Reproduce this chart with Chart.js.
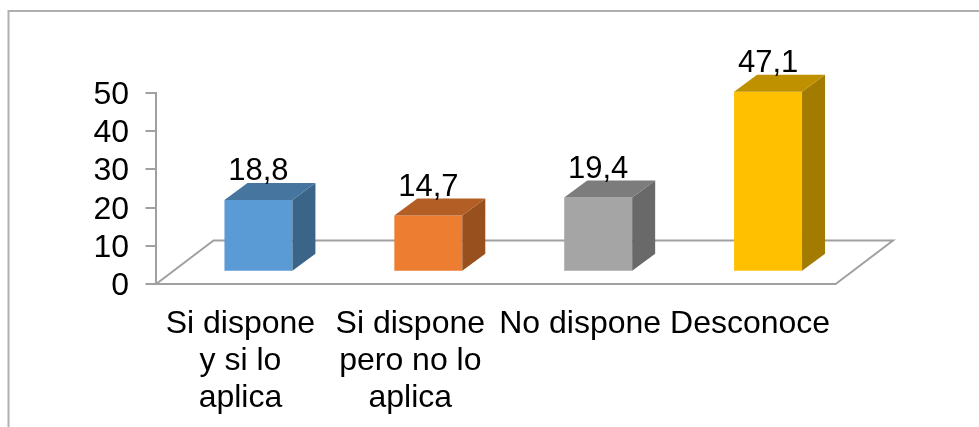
<!DOCTYPE html>
<html>
<head>
<meta charset="utf-8">
<title>Dispone</title>
<script src="https://cdn.jsdelivr.net/npm/chart.js@4/dist/chart.umd.min.js"></script>
<style>
    html, body { margin: 0; padding: 0; background: #fff; }
    canvas { display: block; }
</style>
</head>
<body>
<canvas id="chart" width="979" height="427"></canvas>
<script>
const categories = [['Si dispone', 'y si lo', 'aplica'], ['Si dispone', 'pero no lo', 'aplica'], 'No dispone', 'Desconoce'];
const seriesValues = [18.8, 14.7, 19.4, 47.1];
const valueLabels = ['18,8', '14,7', '19,4', '47,1'];
const frontColors = ['#5b9bd5', '#ed7d31', '#a5a5a5', '#ffc000'];
const topColors = ['#4675a0', '#b35e25', '#7c7c7c', '#bf9000'];
const sideColors = ['#3a6488', '#98501e', '#696969', '#a37b00'];

const GREY = '#a0a0a0';
const FONT = 'Liberation Sans';
// floor depth of the 3D box, and how far bars sit in from the front edge
const DEPTH_X = 58, DEPTH_Y = 44;
const BAR_DX = 18, BAR_DY = -12.3, SIDE_X = 23, SIDE_Y = 17;

const outerFrame = {
    id: 'outerFrame',
    beforeDraw(chart) {
        const ctx = chart.ctx;
        ctx.save();
        ctx.strokeStyle = '#b0b0b0';
        ctx.lineWidth = 2;
        ctx.beginPath();
        ctx.moveTo(8.5, 427);
        ctx.lineTo(8.5, 11);
        ctx.lineTo(979, 11);
        ctx.stroke();
        ctx.restore();
    }
};

const floor3d = {
    id: 'floor3d',
    beforeDatasetsDraw(chart) {
        const { ctx, chartArea } = chart;
        const { left, right, bottom } = chartArea;
        ctx.save();
        ctx.strokeStyle = GREY;
        ctx.lineWidth = 2;
        ctx.beginPath();
        ctx.moveTo(left, bottom + 0.5);
        ctx.lineTo(left + DEPTH_X, bottom - DEPTH_Y + 0.5);
        ctx.lineTo(right + DEPTH_X, bottom - DEPTH_Y + 0.5);
        ctx.lineTo(right, bottom + 0.5);
        ctx.stroke();
        ctx.restore();
    }
};

// value axis labels sit a little below the tick marks, so they are placed by baseline
const yLabels = {
    id: 'yLabels',
    afterDraw(chart) {
        const ctx = chart.ctx;
        const scale = chart.scales.y;
        ctx.save();
        ctx.fillStyle = '#000';
        ctx.font = '32px "' + FONT + '"';
        ctx.textAlign = 'right';
        ctx.textBaseline = 'alphabetic';
        scale.ticks.forEach(function (tick) {
            ctx.fillText(String(tick.value), 129, scale.getPixelForValue(tick.value) + 11);
        });
        ctx.restore();
    }
};

// bars are shifted back onto the floor, side and top faces come from the bar elements
const bars3d = {
    id: 'bars3d',
    beforeDatasetDraw(chart) {
        chart.ctx.save();
        chart.ctx.translate(BAR_DX, BAR_DY);
    },
    afterDatasetDraw(chart) {
        const ctx = chart.ctx;
        chart.getDatasetMeta(0).data.forEach(function (bar, i) {
            const right = bar.x + bar.width / 2;
            const left = bar.x - bar.width / 2;
            ctx.fillStyle = sideColors[i];
            ctx.beginPath();
            ctx.moveTo(right, bar.y);
            ctx.lineTo(right + SIDE_X, bar.y - SIDE_Y);
            ctx.lineTo(right + SIDE_X, bar.base - SIDE_Y);
            ctx.lineTo(right, bar.base);
            ctx.closePath();
            ctx.fill();
            ctx.fillStyle = topColors[i];
            ctx.beginPath();
            ctx.moveTo(left, bar.y);
            ctx.lineTo(left + SIDE_X, bar.y - SIDE_Y);
            ctx.lineTo(right + SIDE_X, bar.y - SIDE_Y);
            ctx.lineTo(right, bar.y);
            ctx.closePath();
            ctx.fill();
        });
        ctx.restore();
        ctx.save();
        ctx.fillStyle = '#000';
        ctx.font = '31px "' + FONT + '"';
        ctx.textAlign = 'center';
        ctx.textBaseline = 'alphabetic';
        chart.getDatasetMeta(0).data.forEach(function (bar, i) {
            ctx.fillText(valueLabels[i], bar.x + BAR_DX, bar.y + BAR_DY - 20);
        });
        ctx.restore();
    }
};

new Chart(document.getElementById('chart').getContext('2d'), {
    type: 'bar',
    data: {
        labels: categories,
        datasets: [{
            data: seriesValues,
            backgroundColor: frontColors,
            borderWidth: 0,
            clip: false,
            categoryPercentage: 0.4,
            barPercentage: 1
        }]
    },
    options: {
        responsive: false,
        animation: false,
        layout: { padding: { left: 0, right: 144, top: 93, bottom: 0 } },
        plugins: {
            legend: { display: false },
            title: { display: false },
            tooltip: { enabled: false }
        },
        scales: {
            x: {
                afterFit(scale) { scale.height = 143; },
                grid: { display: false, drawTicks: false },
                border: { display: true, color: GREY, width: 2 },
                ticks: {
                    color: '#000',
                    font: { family: FONT, size: 32, lineHeight: 1.15 },
                    padding: 22,
                    maxRotation: 0,
                    autoSkip: false
                }
            },
            y: {
                min: 0,
                max: 50,
                afterFit(scale) { scale.width = 155.5; },
                grid: { drawOnChartArea: false, drawTicks: true, tickLength: 10, color: GREY, lineWidth: 2 },
                border: { display: true, color: GREY, width: 2 },
                ticks: {
                    stepSize: 10,
                    autoSkip: false,
                    display: false
                }
            }
        }
    },
    plugins: [outerFrame, floor3d, yLabels, bars3d]
});
</script>
</body>
</html>
